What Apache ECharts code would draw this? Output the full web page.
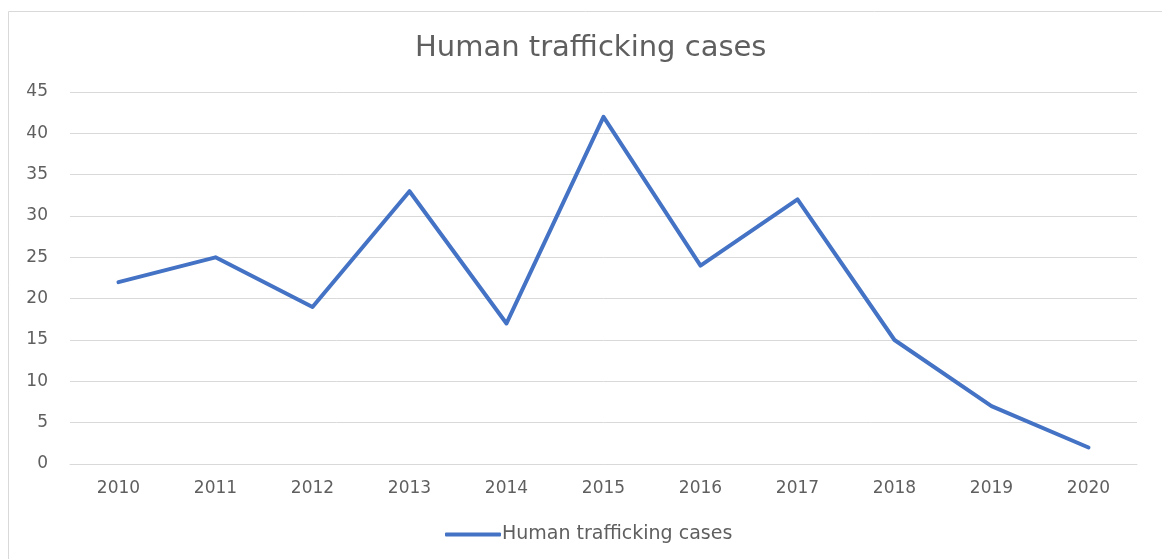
<!DOCTYPE html>
<html><head><meta charset="utf-8">
<script src="https://cdn.jsdelivr.net/npm/echarts@6/dist/echarts.min.js"></script>
<style>html,body{margin:0;padding:0;background:#fff}#c{width:1162px;height:559px}</style>
</head><body><div id="c"></div>
<script>
const years = ['2010','2011','2012','2013','2014','2015','2016','2017','2018','2019','2020'];
const cases = [22, 25, 19, 33, 17, 42, 24, 32, 15, 7, 2];
const seriesName = 'Human trafficking cases';
const chart = echarts.init(document.getElementById('c'));
const font = 'DejaVu Sans';
chart.setOption({
  animation: false,
  textStyle: {fontFamily: font},
  title: {text: 'Human trafficking cases', left: 410, top: 29,
    textStyle: {fontFamily: font, fontSize: 29, fontWeight: 'normal', color: '#5f5f5f'}},
  graphic: [{type: 'rect', shape: {x: 8.5, y: 11.5, width: 1170, height: 570},
    style: {fill: 'none', stroke: '#d9d9d9', lineWidth: 1}, silent: true}],
  legend: {bottom: 10, left: 440, itemWidth: 56, itemHeight: 4, itemGap: 4,
    icon: 'roundRect', data: [seriesName],
    textStyle: {fontFamily: font, fontSize: 19, color: '#5f5f5f', padding: [0,0,0,-4]}},
  grid: {left: 70, right: 25, top: 92, bottom: 95},
  xAxis: {type: 'category', data: years, boundaryGap: true,
    axisLine: {show: true, lineStyle: {color: '#d9d9d9'}}, axisTick: {show: false},
    axisLabel: {color: '#5f5f5f', fontSize: 17, margin: 16}},
  yAxis: {type: 'value', min: 0, max: 45, interval: 5,
    axisLine: {show: false}, axisTick: {show: false},
    splitLine: {lineStyle: {color: '#d9d9d9'}},
    axisLabel: {color: '#5f5f5f', fontSize: 17, margin: 22}},
  series: [{name: seriesName, type: 'line', data: cases, symbol: 'none',
    lineStyle: {color: '#4472C4', width: 4, cap: 'round', join: 'round'},
    itemStyle: {color: '#4472C4'}}]
});
</script></body></html>
